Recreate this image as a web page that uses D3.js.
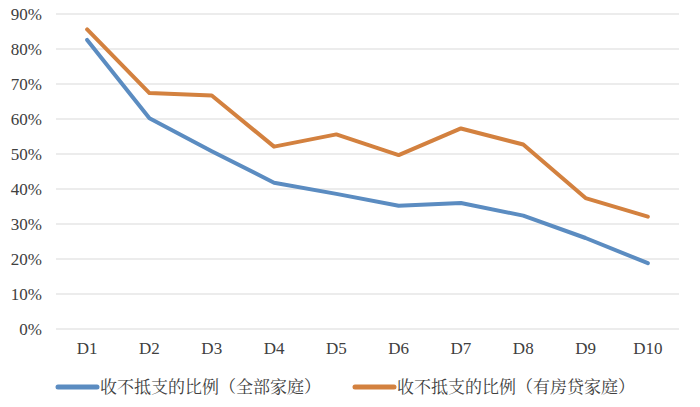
<!DOCTYPE html>
<html><head><meta charset="utf-8">
<script src="https://cdn.jsdelivr.net/npm/d3@7"></script>
<style>body{margin:0;background:#fff;}</style>
</head><body>
<svg id="c" width="700" height="407"></svg>
<script>
const categories = ["D1","D2","D3","D4","D5","D6","D7","D8","D9","D10"];
const allHouseholds = [82.6, 60.2, 50.8, 41.8, 38.6, 35.2, 36.0, 32.4, 26.0, 18.8];
const mortgageHouseholds = [85.6, 67.4, 66.7, 52.1, 55.6, 49.7, 57.3, 52.7, 37.4, 32.1];
const yTicks = [0,10,20,30,40,50,60,70,80,90];
const seriesNames = ["收不抵支的比例（全部家庭）","收不抵支的比例（有房贷家庭）"];
const colors = ["#5b8cc1","#d3813f"];

(function () {
const svg = d3.select("#c");
const mLeft = 56, mRight = 679, mTop = 14, mBottom = 329;
const x = d3.scaleBand().domain(categories).range([mLeft, mRight]);
const y = d3.scaleLinear().domain([0, 90]).range([mBottom, mTop]);

svg.append("g").selectAll("line").data(yTicks).join("line")
  .attr("x1", mLeft).attr("x2", mRight)
  .attr("y1", d => y(d)).attr("y2", d => y(d))
  .attr("stroke", "#d9d9d9").attr("stroke-width", 1.2);

const yAxis = d3.axisLeft(y).tickValues(yTicks).tickFormat(d => d + "%").tickSize(0).tickPadding(14);
const gy = svg.append("g").attr("transform", `translate(${mLeft},0)`).call(yAxis);
gy.select(".domain").remove();
gy.selectAll("text").style("font-family", "'Liberation Serif'").style("font-size", "17px").style("fill", "#404040");

const xAxis = d3.axisBottom(x).tickSize(0).tickPadding(13);
const gx = svg.append("g").attr("transform", `translate(0,${mBottom})`).call(xAxis);
gx.select(".domain").remove();
gx.selectAll("text").style("font-family", "'Liberation Serif'").style("font-size", "17px").style("fill", "#404040");

const line = d3.line().x((d, i) => x(categories[i]) + x.bandwidth() / 2).y(d => y(d));
[allHouseholds, mortgageHouseholds].forEach((s, k) => {
  svg.append("path").datum(s).attr("d", line)
    .attr("fill", "none").attr("stroke", colors[k]).attr("stroke-width", 4)
    .attr("stroke-linejoin", "round").attr("stroke-linecap", "round");
});

const legendX = [58, 355];
seriesNames.forEach((n, k) => {
  const g = svg.append("g").attr("transform", `translate(${legendX[k]},387)`);
  g.append("line").attr("x1", 0).attr("x2", 39).attr("y1", 0).attr("y2", 0)
    .attr("stroke", colors[k]).attr("stroke-width", 5).attr("stroke-linecap", "round");
  g.append("text").attr("x", 42).attr("y", 6).text(n)
    .style("font-family", "'Noto Serif CJK SC'").style("font-size", "17px").style("fill", "#404040");
});
})();
</script>
</body></html>
